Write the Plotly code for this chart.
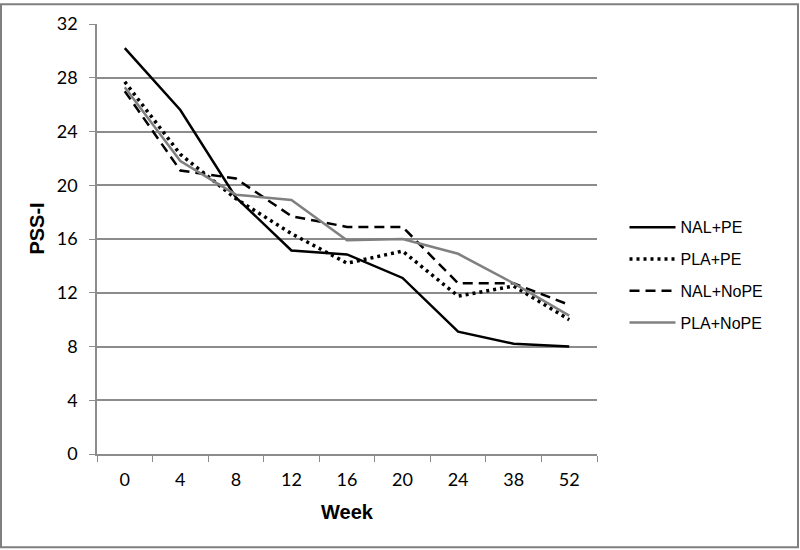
import plotly.graph_objects as go

weeks = ["0", "4", "8", "12", "16", "20", "24", "38", "52"]
nal_pe = [30.2, 25.6, 19.1, 15.15, 14.85, 13.1, 9.1, 8.2, 8.0]
pla_pe = [27.7, 22.3, 19.0, 16.4, 14.2, 15.1, 11.75, 12.5, 10.0]
nal_nope = [27.0, 21.1, 20.5, 17.7, 16.9, 16.9, 12.7, 12.7, 11.1]
pla_nope = [27.3, 21.8, 19.3, 18.9, 15.9, 16.0, 14.9, 12.7, 10.3]
y_ticks = [0, 4, 8, 12, 16, 20, 24, 28, 32]

fig = go.Figure()
series = [
    ("NAL+PE", nal_pe, dict(color="black", width=2.5, dash="solid")),
    ("PLA+PE", pla_pe, dict(color="black", width=3.5, dash="3px,4px")),
    ("NAL+NoPE", nal_nope, dict(color="black", width=2.5, dash="10px,6px")),
    ("PLA+NoPE", pla_nope, dict(color="#808080", width=2.5, dash="solid")),
]
for name, vals, line in series:
    fig.add_trace(go.Scatter(x=weeks, y=vals, name=name, mode="lines",
                             line=line, legendgroup=name))

W0, W1, H0, H1 = 97, 597, 21, 454
pw, ph = W1 - W0, H1 - H0

fig.update_layout(
    width=800, height=550,
    margin=dict(l=W0, r=800 - W1, t=H0, b=550 - H1),
    paper_bgcolor="white", plot_bgcolor="white",
    font=dict(family="Liberation Sans, Arial", color="black"),
    showlegend=True,
    legend=dict(x=(627 - W0) / pw - 0.005, xanchor="left", y=(H1 - 274) / ph, yanchor="middle",
                font=dict(size=16, family="Liberation Sans, Arial"), itemwidth=46,
                tracegroupgap=8, bgcolor="rgba(0,0,0,0)"),
    xaxis=dict(type="category", tickson="boundaries", ticks="outside", ticklen=6,
               tickcolor="#8c8c8c", showline=True, linecolor="#8c8c8c", linewidth=1.5,
               showgrid=False, tickfont=dict(family="Lato", size=18), zeroline=False,
               ticklabelstandoff=9, range=[-0.5, len(weeks) - 0.5]),
    yaxis=dict(range=[0, 32], tickvals=y_ticks, ticks="outside", ticklen=6,
               tickcolor="#8c8c8c", showline=True, linecolor="#8c8c8c", linewidth=1.5,
               showgrid=True, gridcolor="#8c8c8c", gridwidth=1.5, zeroline=False,
               ticklabelstandoff=8, tickfont=dict(family="Lato", size=18)),
    annotations=[
        dict(text="<b>Week</b>", xref="paper", yref="paper", x=0.5, y=(H1 - 512) / ph,
             showarrow=False, font=dict(size=20, family="Liberation Sans, Arial"),
             xanchor="center", yanchor="middle"),
        dict(text="<b>PSS-I</b>", xref="paper", yref="paper", x=(37 - W0) / pw,
             y=(H1 - 227) / ph, textangle=-90, showarrow=False,
             font=dict(size=20, family="Liberation Sans, Arial"),
             xanchor="center", yanchor="middle"),
    ],
    shapes=[dict(type="rect", xref="paper", yref="paper",
                 x0=(1 - W0) / pw, x1=(798 - W0) / pw,
                 y0=(H1 - 548) / ph, y1=(H1 - 1) / ph,
                 line=dict(color="#7f7f7f", width=2))],
)

fig.write_html("out.html", config={"displayModeBar": False},
               post_script="document.body.style.margin='0';document.body.style.overflow='hidden';")
